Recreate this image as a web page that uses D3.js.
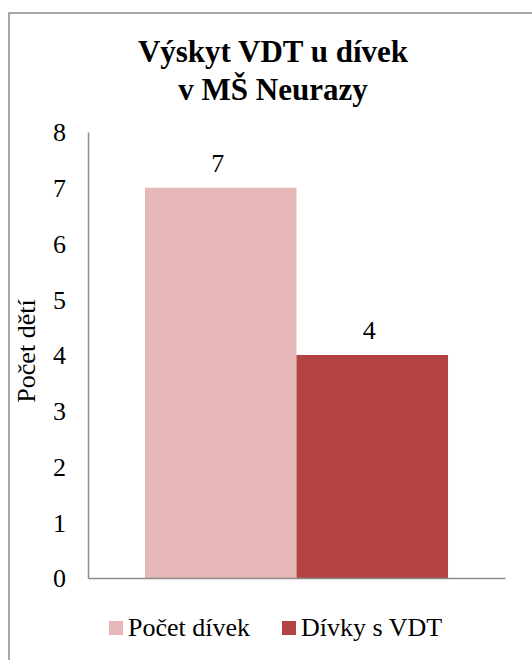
<!DOCTYPE html>
<html>
<head>
<meta charset="utf-8">
<script src="https://cdn.jsdelivr.net/npm/d3@7"></script>
<style>
  body { margin: 0; }
  #chart text { font-family: "Liberation Serif", "Times New Roman", Tinos, serif; }
</style>
</head>
<body>
<svg id="chart" width="532" height="660"></svg>
<script>
// Chart data
const titleLines = ["Výskyt VDT u dívek", "v MŠ Neurazy"];
const categories = ["MŠ Neurazy"];
const seriesNames = ["Počet dívek", "Dívky s VDT"];
const seriesValues = [7, 4];
const seriesColors = ["#e6b8b7", "#b24341"];
const yTicks = [0, 1, 2, 3, 4, 5, 6, 7, 8];
const yAxisTitle = "Počet dětí";

function draw() {
  const svg = d3.select("#chart");
  svg.selectAll("*").remove();

  // Outer chart frame
  svg.append("rect")
    .attr("x", 9).attr("y", 13)
    .attr("width", 540).attr("height", 680)
    .attr("fill", "#fff")
    .attr("stroke", "#8c8c8c")
    .attr("stroke-width", 1.5);

  // Title
  svg.append("text")
    .attr("text-anchor", "middle")
    .attr("font-weight", "bold")
    .attr("font-size", 31)
    .selectAll("tspan")
    .data(titleLines)
    .join("tspan")
    .attr("x", 273)
    .attr("y", (d, i) => 62 + i * 38)
    .text(d => d);

  // Scales
  const plot = { left: 88, right: 505, top: 132, bottom: 578 };
  const x0 = d3.scaleBand()
    .domain(categories)
    .range([plot.left, plot.right])
    .paddingInner(0)
    .paddingOuter(0.188);
  const x1 = d3.scaleBand()
    .domain(seriesNames)
    .range([0, x0.bandwidth()]);
  const y = d3.scaleLinear()
    .domain([0, 8])
    .range([plot.bottom, plot.top]);

  // Bars
  const bars = seriesNames.map((name, i) => ({ cat: categories[0], name, value: seriesValues[i], color: seriesColors[i] }));

  svg.append("g")
    .selectAll("rect")
    .data(bars)
    .join("rect")
    .attr("x", d => x0(d.cat) + x1(d.name))
    .attr("y", d => y(d.value))
    .attr("width", x1.bandwidth())
    .attr("height", d => y(0) - y(d.value))
    .attr("fill", d => d.color);

  // Value labels
  svg.append("g")
    .selectAll("text")
    .data(bars)
    .join("text")
    .attr("x", d => x0(d.cat) + x1(d.name) + x1.bandwidth() / 2 - 3)
    .attr("y", d => y(d.value) - 16)
    .attr("text-anchor", "middle")
    .attr("font-size", 26)
    .attr("fill", "#000")
    .text(d => d.value);

  // Y axis
  const yAxis = d3.axisLeft(y).tickValues(yTicks).tickSize(0).tickPadding(22).tickFormat(d3.format("d"));
  const gy = svg.append("g")
    .attr("transform", `translate(${plot.left},0)`)
    .call(yAxis)
    .attr("font-family", null)
    .attr("font-size", 26);
  gy.select(".domain").attr("stroke", "#8c8c8c").attr("stroke-width", 1.5);
  gy.selectAll(".tick text")
    .attr("fill", "#000")
    .attr("dy", "0.34em");

  // X axis baseline
  const xAxis = d3.axisBottom(x0).tickSize(0).tickFormat("");
  const gx = svg.append("g")
    .attr("transform", `translate(0,${plot.bottom})`)
    .call(xAxis);
  gx.select(".domain").attr("stroke", "#8c8c8c").attr("stroke-width", 1.5);

  // Y axis title
  svg.append("text")
    .attr("transform", "translate(35,351) rotate(-90)")
    .attr("text-anchor", "middle")
    .attr("font-size", 26)
    .attr("fill", "#000")
    .text(yAxisTitle);

  // Legend
  const legendX = [109, 282];
  const legend = svg.append("g")
    .selectAll("g")
    .data(bars)
    .join("g")
    .attr("transform", (d, i) => `translate(${legendX[i]},621)`);
  legend.append("rect")
    .attr("width", 14).attr("height", 14)
    .attr("fill", d => d.color);
  legend.append("text")
    .attr("x", 19).attr("y", 15)
    .attr("font-size", 26)
    .attr("fill", "#000")
    .text(d => d.name);
}

draw();
// Redraw once the serif faces are ready
Promise.all([
  document.fonts.load('26px "Liberation Serif"'),
  document.fonts.load('bold 31px "Liberation Serif"')
]).then(draw, draw);
</script>
</body>
</html>
